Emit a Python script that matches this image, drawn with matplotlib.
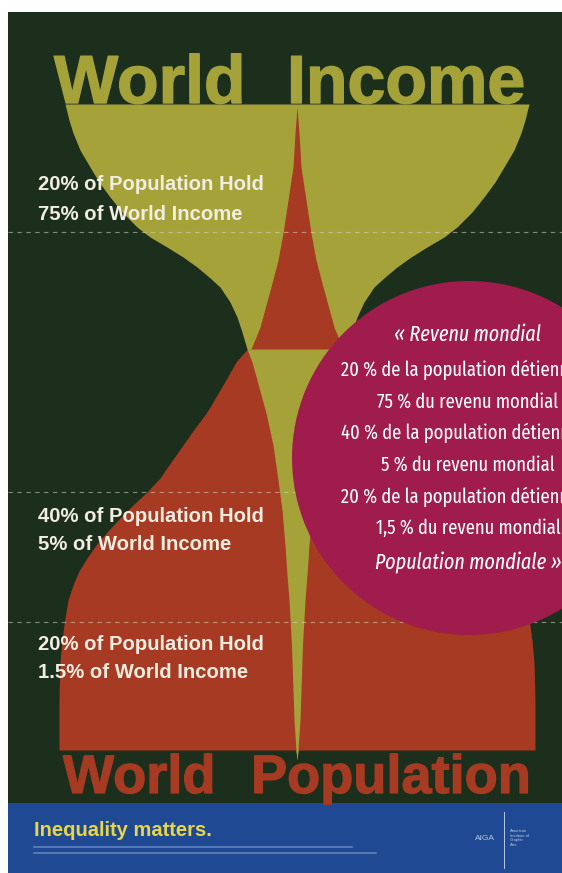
import matplotlib.pyplot as plt
import matplotlib.patheffects as pe
import numpy as np
from matplotlib.patches import Circle, Rectangle

# half-width of each shape (px from the centre line)
income_y = np.array([104, 120, 133, 150, 167, 182, 197, 212, 227, 237, 247, 257, 267, 277,
                     287, 302, 317, 332, 349, 362, 380, 413, 445, 480, 510, 545, 575, 600,
                     645, 690, 720, 750, 760])
income_hw = np.array([232, 228, 224, 217, 207, 198, 187, 175, 160, 147, 130, 114, 100, 88,
                      77, 67, 60, 55, 50, 45, 40, 31, 24, 19, 15, 12, 10, 8,
                      5.5, 4, 3, 1, 0])

population_y = np.array([107, 133, 167, 200, 233, 260, 283, 305, 327, 349, 349.5, 362, 378,
                         395, 412, 428, 445, 462, 478, 492, 505, 518, 532, 545, 558, 571,
                         585, 600, 618, 640, 662, 700, 750])
population_hw = np.array([0, 2, 4, 9, 14, 19, 25, 31, 37, 46, 50, 61, 70,
                          80, 90, 102, 114, 126, 137, 150, 164, 177, 190, 201, 210, 218,
                          224, 229, 232, 235, 237, 238, 238])

label_top = ["20% of Population Hold", "40% of Population Hold", "20% of Population Hold"]
label_bottom = ["75% of World Income", "5% of World Income", "1.5% of World Income"]
label_y = [185, 516, 644]
divider_y = [232, 492, 622]

circle_lines = ["« Revenu mondial",
                "20 % de la population détiennent",
                "75 % du revenu mondial",
                "40 % de la population détiennent",
                "5 % du revenu mondial",
                "20 % de la population détiennent",
                "1,5 % du revenu mondial",
                "Population mondiale »"]
circle_italic = [True, False, False, False, False, False, False, True]
circle_line_y = [335, 370, 402, 433, 465, 497, 528, 563]

GREEN = "#1b2f1c"
OLIVE = "#a6a23a"
RED = "#a63a22"
MAGENTA = "#a01c4c"
BLUE = "#1f4a93"
CREAM = "#f1ede0"
YELLOW = "#e8d64a"
CONDENSED = ["Fira Sans Extra Condensed", "Fira Sans Condensed", "DejaVu Sans"]

centre_x = 297
neck_y = 349

fig = plt.figure(figsize=(5.62, 8.73), dpi=100)
ax = fig.add_axes([0, 0, 1, 1])
ax.set_xlim(0, 562)
ax.set_ylim(873, 0)
ax.axis("off")

ax.add_patch(Rectangle((8, 12), 600, 791, color=GREEN, lw=0, zorder=0))
ax.add_patch(Rectangle((8, 803), 600, 75, color=BLUE, lw=0, zorder=0))

# income vase, population spike/bell, then the income spike on top below the neck
ax.fill_betweenx(income_y, centre_x - income_hw, centre_x + income_hw,
                 color=OLIVE, lw=0, zorder=2)
ax.fill_betweenx(population_y, centre_x - population_hw, centre_x + population_hw,
                 color=RED, lw=0, zorder=3)
low = income_y >= neck_y
ax.fill_betweenx(income_y[low], centre_x - income_hw[low], centre_x + income_hw[low],
                 color=OLIVE, lw=0, zorder=4)

for y in divider_y:
    ax.plot([8, 562], [y, y], color="#d8d8c8", lw=0.8, alpha=0.55,
            dashes=(4, 4), zorder=5)

# slightly heavier title lettering: bold face plus a thin stroke in the same colour
heavy = dict(family="Liberation Sans", weight="bold", va="baseline", ha="left", zorder=6)
olive_fx = [pe.withStroke(linewidth=1.0, foreground=OLIVE)]
red_fx = [pe.withStroke(linewidth=0.9, foreground=RED)]
ax.text(54, 103, "World", color=OLIVE, fontsize=49, path_effects=olive_fx, **heavy)
ax.text(287, 103, "Income", color=OLIVE, fontsize=49, path_effects=olive_fx, **heavy)
ax.text(63, 793, "World", color=RED, fontsize=39, path_effects=red_fx, **heavy)
ax.text(251, 793, "Population", color=RED, fontsize=39, path_effects=red_fx, **heavy)

for top, bottom, y in zip(label_top, label_bottom, label_y):
    ax.text(38, y, top, color=CREAM, fontsize=14.6, family="Liberation Sans",
            weight="bold", va="center", zorder=8)
    ax.text(38, y + 29, bottom, color=CREAM, fontsize=14.6, family="Liberation Sans",
            weight="bold", va="center", zorder=8)

ax.add_patch(Circle((469, 458), 177, color=MAGENTA, lw=0, zorder=7))
for line, italic, y in zip(circle_lines, circle_italic, circle_line_y):
    ax.text(468, y, line, color="white", ha="center", va="center", zorder=8,
            fontsize=15.7 if italic else 14.5, style="italic" if italic else "normal",
            family=CONDENSED)

ax.text(34, 830, "Inequality matters.", color=YELLOW, fontsize=14.5,
        family="Liberation Sans", weight="bold", va="center", zorder=8)
# illegible fine print under the tagline
ax.plot([34, 352], [847, 847], color="#8fa6cf", lw=1.2, alpha=0.6, zorder=8)
ax.plot([34, 376], [853, 853], color="#8fa6cf", lw=1.2, alpha=0.6, zorder=8)

ax.text(485, 838, "AIGA", color="#b8c6e2", fontsize=6, ha="center", va="center",
        family="Liberation Sans", zorder=8)
ax.plot([504, 504], [812, 868], color="#b8c6e2", lw=0.7, zorder=8)
ax.text(510, 838, "American\nInstitute of\nGraphic\nArts", color="#b8c6e2", fontsize=3,
        va="center", ha="left", family="Liberation Sans", linespacing=1.3, zorder=8)

fig.savefig("out.png", dpi=100)
